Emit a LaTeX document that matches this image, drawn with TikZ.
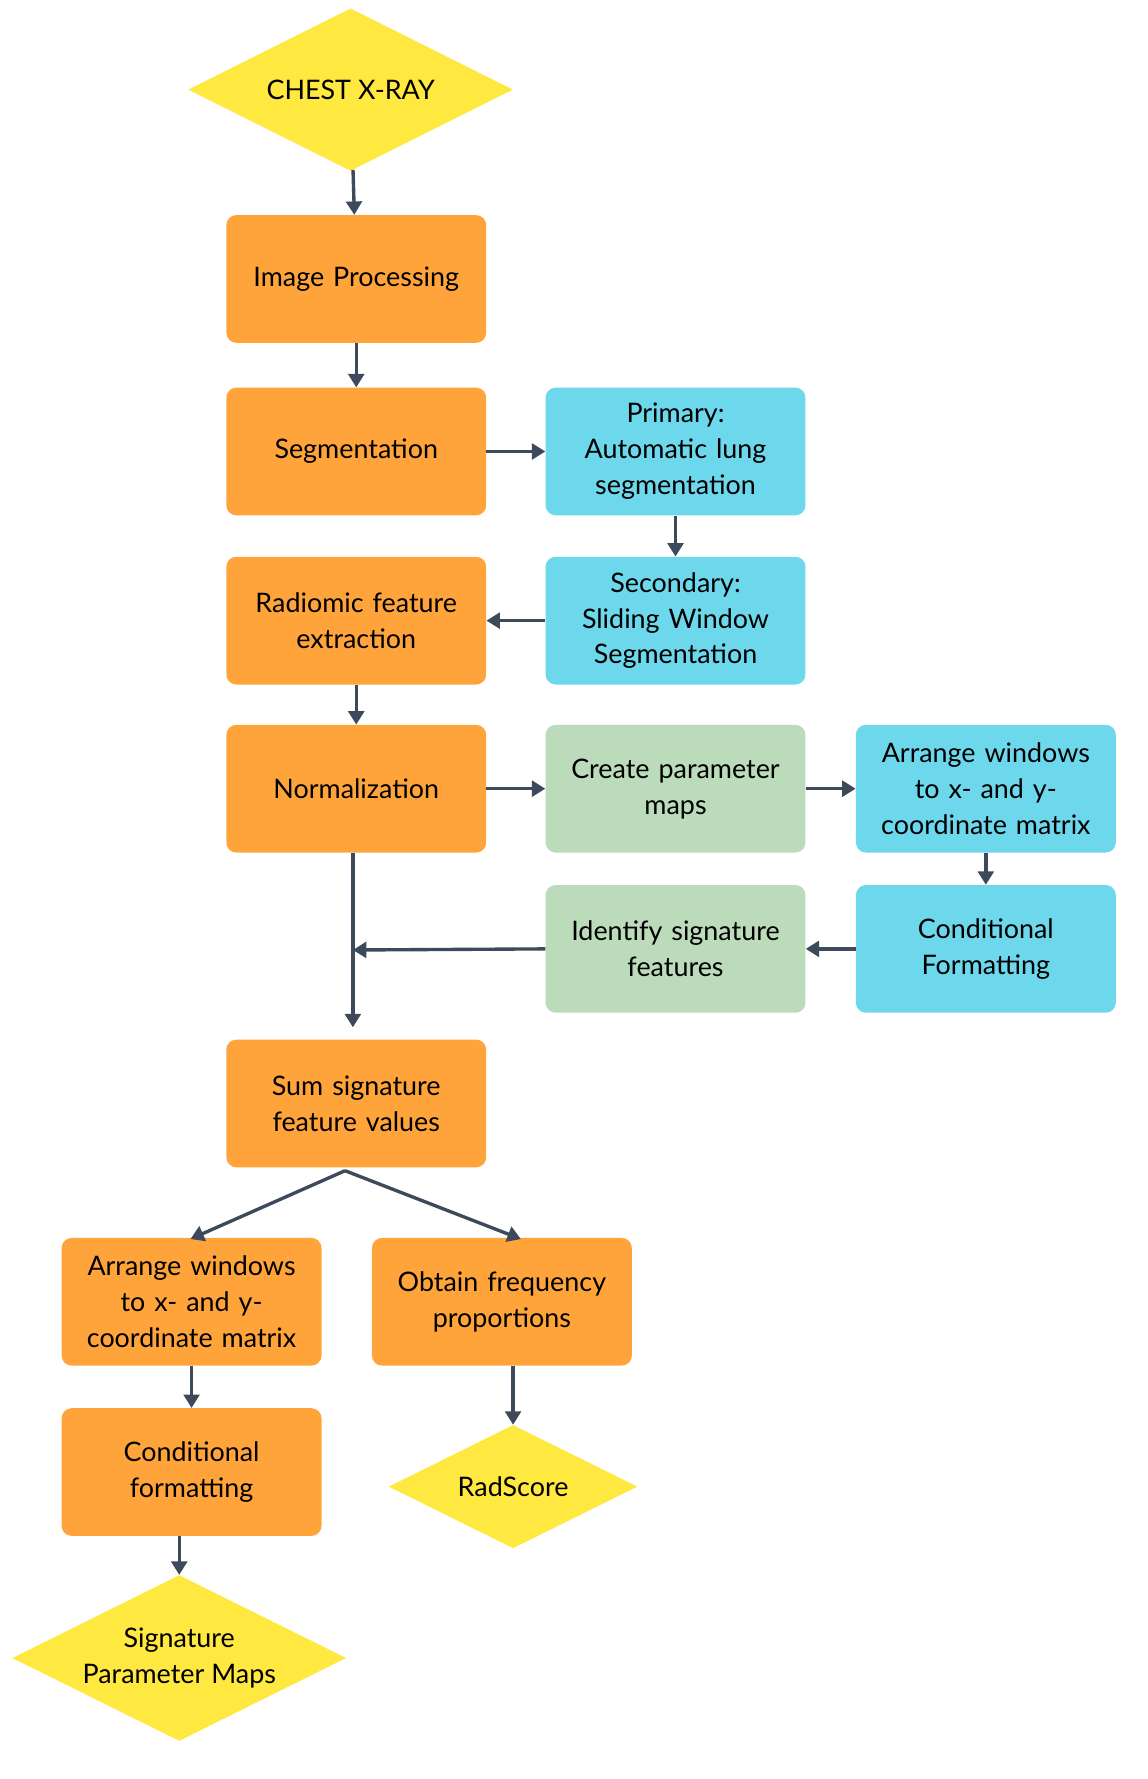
\documentclass[tikz,border=0pt]{standalone}
\usepackage{fontspec}
\setmainfont{Lato}
\usetikzlibrary{shapes.geometric,arrows.meta}
\definecolor{org}{HTML}{FFA43A}
\definecolor{blu}{HTML}{6DD7EC}
\definecolor{grn}{HTML}{BBDBBB}
\definecolor{yel}{HTML}{FFE840}
\definecolor{arr}{HTML}{3D4A5C}
\begin{document}
\begin{tikzpicture}[x=1pt,y=-1pt,
 box/.style={rectangle,rounded corners=9pt,minimum width=232pt,minimum height=114pt,text width=220pt,align=center,font=\fontsize{24}{32}\selectfont},
 o/.style={box,fill=org},b/.style={box,fill=blu},g/.style={box,fill=grn},
 dia/.style={diamond,fill=yel,aspect=2,inner sep=0pt,align=center,font=\fontsize{24}{32}\selectfont},
 ar/.style={draw=arr,line width=3pt,-{Triangle[length=12pt,width=14pt]}}]
\useasboundingbox (0,0) rectangle (1024,1588);
\node[dia,minimum width=290pt,minimum height=145pt] (cx) at (313,80) {CHEST X-RAY};
\node[o] (ip) at (318,249) {Image Processing};
\node[o] (seg) at (318,403) {Segmentation};
\node[b] (pri) at (603,403) {Primary:\\Automatic lung\\segmentation};
\node[b] (sec) at (603,554) {Secondary:\\Sliding Window\\Segmentation};
\node[o] (rad) at (318,554) {Radiomic feature\\extraction};
\node[o] (nor) at (318,704) {Normalization};
\node[g] (cpm) at (603,704) {Create parameter\\maps};
\node[b] (aw1) at (880,704) {Arrange windows\\to x- and y-\\coordinate matrix};
\node[b] (cf1) at (880,847) {Conditional\\Formatting};
\node[g] (isf) at (603,847) {Identify signature\\features};
\node[o] (sum) at (318,985) {Sum signature\\feature values};
\node[o] (aw2) at (171,1162) {Arrange windows\\to x- and y-\\coordinate matrix};
\node[o] (ofp) at (448,1162) {Obtain frequency\\proportions};
\node[o] (cf2) at (171,1314) {Conditional\\formatting};
\node[dia,minimum width=222pt,minimum height=110pt] (rs) at (458,1327) {RadScore};
\node[dia,minimum width=298pt,minimum height=148pt] (spm) at (160,1480) {Signature\\Parameter Maps};
\coordinate (j) at (315,848);
\coordinate (top) at (308,1045);
\draw[ar] (cx) -- (ip);
\draw[ar] (ip) -- (seg);
\draw[ar] (seg) -- (pri);
\draw[ar] (pri) -- (sec);
\draw[ar] (sec) -- (rad);
\draw[ar] (rad) -- (nor);
\draw[ar] (nor) -- (cpm);
\draw[ar] (cpm) -- (aw1);
\draw[ar] (aw1) -- (cf1);
\draw[ar] (cf1) -- (isf);
\draw[ar] (isf.west) -- (j);
\draw[ar] (nor.south -| j) -- (315,917);
\draw[ar] (top) -- (170,1106);
\draw[ar] (top) -- (465,1106);
\draw[ar] (aw2) -- (cf2);
\draw[ar] (ofp.south -| rs) -- (rs.north);
\draw[ar] (cf2.south -| spm) -- (spm.north);
\end{tikzpicture}
\end{document}
